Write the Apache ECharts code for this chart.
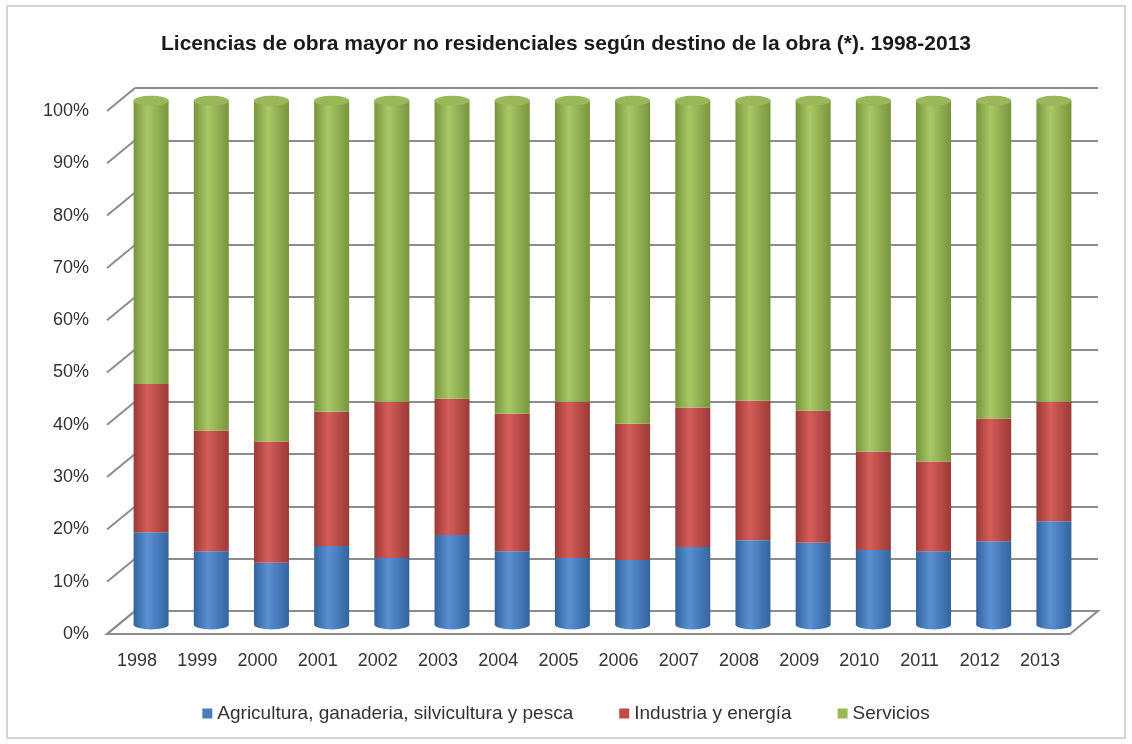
<!DOCTYPE html>
<html>
<head>
<meta charset="utf-8">
<title>Licencias de obra mayor no residenciales</title>
<script src="https://cdn.jsdelivr.net/npm/echarts@6/dist/echarts.min.js"></script>
<style>
html, body { margin: 0; padding: 0; background: #fff; }
#chart { width: 1132px; height: 744px; }
</style>
</head>
<body>
<div id="chart"></div>
<script>
// datos (% sobre el total de cada año)
var years = ['1998', '1999', '2000', '2001', '2002', '2003', '2004', '2005',
             '2006', '2007', '2008', '2009', '2010', '2011', '2012', '2013'];
var agricultura = [17.6, 14.0, 11.8, 15.0, 12.7, 17.1, 14.0, 12.7, 12.3, 14.8, 16.1, 15.6, 14.2, 14.0, 15.9, 19.7];
var industria   = [28.3, 23.0, 23.1, 25.6, 29.8, 26.0, 26.2, 29.8, 26.0, 26.6, 26.6, 25.2, 18.8, 17.1, 23.4, 22.8];
var servicios   = [54.1, 63.0, 65.1, 59.4, 57.5, 56.9, 59.8, 57.5, 61.7, 58.6, 57.3, 59.2, 67.0, 68.9, 60.7, 57.5];
var yTicks = [0, 10, 20, 30, 40, 50, 60, 70, 80, 90, 100];
var seriesNames = ['Agricultura, ganaderia, silvicultura y pesca', 'Industria y energía', 'Servicios'];

var font = "'Liberation Sans', Arial, sans-serif";

// totales para las tapas de los cilindros
var totals = years.map(function (y, i) {
    return agricultura[i] + industria[i] + servicios[i];
});

// "3D": pared del fondo desplazada respecto al frente
var front = { left: 107, right: 62, top: 111, bottom: 110 };
var depthX = 28, depthY = 23;

function cyl(dark, light) {
    return new echarts.graphic.LinearGradient(0, 0, 1, 0, [
        { offset: 0, color: dark },
        { offset: 0.4, color: light },
        { offset: 1, color: dark }
    ]);
}

var myChart = echarts.init(document.getElementById('chart'));

var barW = 35;

var option = {
    backgroundColor: '#fff',
    animation: false,
    title: {
        text: 'Licencias de obra mayor no residenciales según destino de la obra (*). 1998-2013',
        left: 'center',
        top: 29,
        textStyle: { fontFamily: font, fontSize: 21, fontWeight: 'bold', color: '#1a1a1a' }
    },
    legend: {
        bottom: 16,
        left: 'center',
        itemWidth: 10,
        itemHeight: 10,
        itemGap: 46,
        icon: 'rect',
        textStyle: { fontFamily: font, fontSize: 19, color: '#333' },
        data: [
            { name: seriesNames[0], itemStyle: { color: '#4a7ebb' } },
            { name: seriesNames[1], itemStyle: { color: '#be4b48' } },
            { name: seriesNames[2], itemStyle: { color: '#98b954' } }
        ]
    },
    grid: [
        // frente (etiquetas)
        { left: front.left, right: front.right, top: front.top, bottom: front.bottom },
        // pared del fondo
        { left: front.left + depthX, right: front.right - depthX, top: front.top - depthY, bottom: front.bottom + depthY },
        // cilindros, a mitad de profundidad
        { left: front.left + depthX / 2, right: front.right - depthX / 2, top: front.top - depthY / 2 + 1, bottom: front.bottom + depthY / 2 - 2 }
    ],
    xAxis: [
        {
            gridIndex: 0, type: 'category', data: years,
            axisLine: { show: false }, axisTick: { show: false },
            axisLabel: { fontFamily: font, fontSize: 18, color: '#333', margin: 18 }
        },
        { gridIndex: 1, type: 'category', data: years, show: false },
        { gridIndex: 2, type: 'category', data: years, show: false }
    ],
    yAxis: [
        {
            gridIndex: 0, type: 'value', min: 0, max: 100, interval: 10,
            axisLine: { show: false }, axisTick: { show: false }, splitLine: { show: false },
            axisLabel: { fontFamily: font, fontSize: 18, color: '#333', margin: 18, formatter: '{value}%' }
        },
        {
            gridIndex: 1, type: 'value', min: 0, max: 100, interval: 10,
            axisLine: { show: false }, axisTick: { show: false }, axisLabel: { show: false },
            splitLine: { lineStyle: { color: '#8c8c8c', width: 2 } }
        },
        { gridIndex: 2, type: 'value', min: 0, max: 100, show: false }
    ],
    series: [
        {
            name: 'base', type: 'pictorialBar', xAxisIndex: 2, yAxisIndex: 2,
            data: totals.map(function () { return 0; }),
            symbol: 'circle', symbolSize: [barW, 10], symbolPosition: 'start', symbolOffset: [0, '50%'],
            barWidth: barW, barGap: '-100%', z: 2,
            itemStyle: { color: cyl('#33649e', '#5a90d2') },
            legendHoverLink: false, silent: true
        },
        {
            name: seriesNames[0], type: 'bar', stack: 'total', xAxisIndex: 2, yAxisIndex: 2,
            barWidth: barW, data: agricultura, z: 3,
            itemStyle: { color: cyl('#33649e', '#5a90d2') }
        },
        {
            name: seriesNames[1], type: 'bar', stack: 'total', xAxisIndex: 2, yAxisIndex: 2,
            barWidth: barW, data: industria, z: 3,
            itemStyle: { color: cyl('#9b3a37', '#d65d59') }
        },
        {
            name: seriesNames[2], type: 'bar', stack: 'total', xAxisIndex: 2, yAxisIndex: 2,
            barWidth: barW, data: servicios, z: 3,
            itemStyle: { color: cyl('#77953c', '#a8c866') }
        },
        {
            name: 'tapa', type: 'pictorialBar', xAxisIndex: 2, yAxisIndex: 2,
            data: totals,
            symbol: 'circle', symbolSize: [barW, 10], symbolPosition: 'end', symbolOffset: [0, '-50%'],
            barWidth: barW, barGap: '-100%', z: 4,
            itemStyle: { color: '#9ab85a', borderColor: '#7b9840', borderWidth: 1 },
            legendHoverLink: false, silent: true
        }
    ]
};

myChart.setOption(option);

// suelo y marcas inclinadas de la pared izquierda
var W = myChart.getWidth(), H = myChart.getHeight();
var xFL = front.left, xFR = W - front.right;
var yF0 = myChart.convertToPixel({ yAxisIndex: 0 }, 0);
var yB0 = myChart.convertToPixel({ yAxisIndex: 1 }, 0);

var gr = [
    {
        type: 'rect', z: -1, silent: true,
        shape: { x: 7, y: 6, width: W - 14, height: H - 12 },
        style: { fill: 'none', stroke: '#d4d4d4', lineWidth: 2 }
    },
    {
        type: 'polygon', z: 1, silent: true,
        shape: { points: [[xFL, yF0], [xFR, yF0], [xFR + depthX, yB0], [xFL + depthX, yB0]] },
        style: { fill: '#fff', stroke: '#8c8c8c', lineWidth: 2 }
    }
];
yTicks.forEach(function (v) {
    var yf = myChart.convertToPixel({ yAxisIndex: 0 }, v);
    var yb = myChart.convertToPixel({ yAxisIndex: 1 }, v);
    gr.push({
        type: 'line', z: 1, silent: true,
        shape: { x1: xFL, y1: yf, x2: xFL + depthX, y2: yb },
        style: { stroke: '#8c8c8c', lineWidth: 2 }
    });
});

myChart.setOption({ graphic: gr });
</script>
</body>
</html>
